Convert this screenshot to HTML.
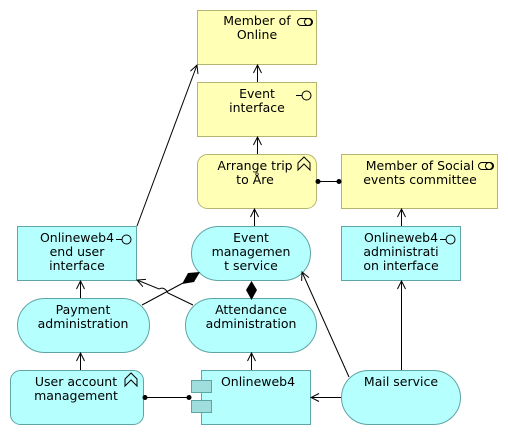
<!DOCTYPE html>
<html><head><meta charset="utf-8"><style>
html,body{margin:0;padding:0;background:#fff;}
svg{display:block;}
text{font-family:"DejaVu Sans","Liberation Sans",sans-serif;font-size:12.5px;fill:#000;text-anchor:middle;}
</style></head><body>
<svg width="508" height="435" viewBox="0 0 508 435" xmlns="http://www.w3.org/2000/svg">
<defs>
<marker id="a" markerWidth="10" markerHeight="10" refX="9" refY="5" orient="auto" markerUnits="userSpaceOnUse">
<path d="M1,1 L9,5 L1,9" fill="none" stroke="#000" stroke-width="1"/></marker>
</defs>
<g stroke-width="1">
<rect x="197.5" y="10.5" width="119" height="54" fill="#ffffb5" stroke="#b5b573"/>
<rect x="197.5" y="82.5" width="119" height="54" fill="#ffffb5" stroke="#b5b573"/>
<rect x="197.5" y="154.5" width="119" height="54" rx="10" fill="#ffffb5" stroke="#b5b573"/>
<rect x="341.5" y="154.5" width="156" height="54" fill="#ffffb5" stroke="#b5b573"/>
<rect x="17.5" y="226.5" width="119" height="54" fill="#b5ffff" stroke="#5fa5a5"/>
<rect x="191.5" y="226.5" width="119" height="54" rx="27" fill="#b5ffff" stroke="#5fa5a5"/>
<rect x="341.5" y="226.5" width="119" height="54" fill="#b5ffff" stroke="#5fa5a5"/>
<rect x="17.5" y="298.5" width="132" height="54" rx="27" fill="#b5ffff" stroke="#5fa5a5"/>
<rect x="185.5" y="298.5" width="131" height="54" rx="27" fill="#b5ffff" stroke="#5fa5a5"/>
<rect x="10.5" y="370.5" width="133" height="54" rx="10" fill="#b5ffff" stroke="#5fa5a5"/>
<rect x="201.5" y="370.5" width="109" height="54" fill="#b5ffff" stroke="#5fa5a5"/>
<rect x="191.5" y="380.5" width="20" height="12" fill="#a0dede" stroke="#5fa5a5"/>
<rect x="191.5" y="400.5" width="20" height="12" fill="#a0dede" stroke="#5fa5a5"/>
<rect x="341.5" y="370.5" width="119" height="54" rx="27" fill="#b5ffff" stroke="#5fa5a5"/>
</g>
<g fill="none" stroke="#000" stroke-width="1">
<rect x="297.5" y="18.5" width="15" height="7" rx="3.5"/><circle cx="308" cy="22" r="3.5"/>
<rect x="478.5" y="162.5" width="15" height="7" rx="3.5"/><circle cx="489" cy="166" r="3.5"/>
<line x1="296" y1="95.5" x2="302" y2="95.5"/><circle cx="306.5" cy="95.5" r="4.5"/>
<line x1="116" y1="239.5" x2="122" y2="239.5"/><circle cx="126.5" cy="239.5" r="4.5"/>
<line x1="440" y1="239.5" x2="446" y2="239.5"/><circle cx="450.5" cy="239.5" r="4.5"/>
<path d="M298,170 L298,163 L304,157 L310,163 L310,170 L304,164 Z"/>
<path d="M125,386 L125,379 L131,373 L137,379 L137,386 L131,380 Z"/>
</g>
<g stroke="#000" stroke-width="1" fill="none">
<line x1="257.5" y1="82" x2="257.5" y2="65" marker-end="url(#a)"/>
<line x1="257.5" y1="154" x2="257.5" y2="137" marker-end="url(#a)"/>
<line x1="254.5" y1="226" x2="254.5" y2="209" marker-end="url(#a)"/>
<line x1="401.5" y1="226" x2="401.5" y2="209" marker-end="url(#a)"/>
<line x1="401.5" y1="370" x2="401.5" y2="281" marker-end="url(#a)"/>
<line x1="80.5" y1="298" x2="80.5" y2="281" marker-end="url(#a)"/>
<line x1="80.5" y1="370" x2="80.5" y2="353" marker-end="url(#a)"/>
<line x1="251.5" y1="370" x2="251.5" y2="353" marker-end="url(#a)"/>
<line x1="137" y1="226" x2="197" y2="65" marker-end="url(#a)"/>
<line x1="349" y1="377" x2="302" y2="272" marker-end="url(#a)"/>
<line x1="341" y1="397.5" x2="311" y2="397.5" marker-end="url(#a)"/>
<line x1="145" y1="397.5" x2="190" y2="397.5"/>
<line x1="316" y1="181.5" x2="340" y2="181.5"/>
<line x1="142" y1="305" x2="183" y2="283"/>
<path d="M193,305 L168,293 Q164,286 159,289 L137,280" marker-end="url(#a)"/>
</g>
<g fill="#000">
<circle cx="145" cy="397.5" r="2.5"/><circle cx="189" cy="397.5" r="2.5"/>
<circle cx="318" cy="181.5" r="2.5"/><circle cx="339" cy="181.5" r="2.5"/>
<path d="M182,284 L188,273 L200,272 L194,282 Z"/>
<path d="M251.5,281 L257,290 L251.5,300 L246,290 Z"/>
</g>
<text x="257" y="25">Member of</text><text x="257" y="39">Online</text>
<text x="257" y="98">Event</text><text x="257" y="112">interface</text>
<text x="255" y="170">Arrange trip</text><text x="255" y="184">to Åre</text>
<text x="420" y="170">Member of Social</text><text x="420" y="184">events committee</text>
<text x="77" y="242">Onlineweb4</text><text x="77" y="256">end user</text><text x="77" y="270">interface</text>
<text x="251" y="242">Event</text><text x="251" y="256">managemen</text><text x="251" y="270">t service</text>
<text x="401" y="242">Onlineweb4</text><text x="401" y="256">administrati</text><text x="401" y="270">on interface</text>
<text x="83" y="314">Payment</text><text x="83" y="328">administration</text>
<text x="251" y="314">Attendance</text><text x="251" y="328">administration</text>
<text x="76" y="386">User account</text><text x="76" y="400">management</text>
<text x="258" y="386">Onlineweb4</text>
<text x="401" y="386">Mail service</text>
</svg>
</body></html>
